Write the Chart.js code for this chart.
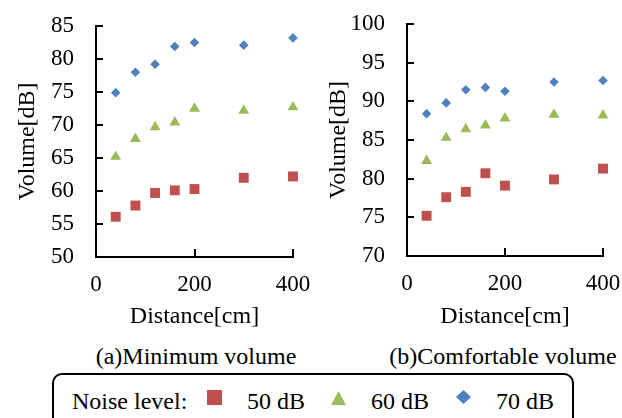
<!DOCTYPE html>
<html><head><meta charset="utf-8">
<script src="https://cdn.jsdelivr.net/npm/chart.js@4/dist/chart.umd.min.js"></script>
<style>
html,body{margin:0;padding:0;background:#fff;}
body{width:622px;height:418px;position:relative;overflow:hidden;font-family:"Liberation Serif","Times New Roman",serif;color:#000;}
.cw{position:absolute;top:0;width:311px;height:336px;}
canvas{display:block;}
.t{position:absolute;font-size:24px;line-height:24px;white-space:nowrap;}
.cap{text-align:center;width:300px;}
.lbox{position:absolute;left:52px;top:373px;width:518px;height:70px;border:2px solid #000;border-radius:10px;}
.mk{position:absolute;}
</style>
</head><body>
<div class="cw" style="left:0"><canvas id="c1" width="311" height="336"></canvas></div>
<div class="cw" style="left:311px"><canvas id="c2" width="311" height="336"></canvas></div>
<div class="t cap" style="left:46px;top:344px">(a)Minimum volume</div>
<div class="t cap" style="left:353px;top:344px">(b)Comfortable volume</div>
<div class="lbox"></div>
<div class="t" style="left:72px;top:389px" id="legTitle"></div>
<svg class="mk" style="left:207px;top:390px" width="15" height="15"><rect x="0" y="0" width="15" height="15" fill="#C0504D"/></svg>
<div class="t" style="left:247px;top:389px" id="leg0"></div>
<svg class="mk" style="left:331px;top:391px" width="15" height="14"><polygon points="7.5,0 15,14 0,14" fill="#9BBB59"/></svg>
<div class="t" style="left:371px;top:389px" id="leg1"></div>
<svg class="mk" style="left:456px;top:390px" width="15" height="14"><polygon points="7.5,0 15,7 7.5,14 0,7" fill="#4F81BD"/></svg>
<div class="t" style="left:496px;top:389px" id="leg2"></div>
<script>
// ---- data ----
const distances = [40, 80, 120, 160, 200, 300, 400];
const minVol50 = [56.1, 57.8, 59.7, 60.1, 60.3, 62.0, 62.2];
const minVol60 = [65.2, 67.9, 69.7, 70.4, 72.5, 72.2, 72.7];
const minVol70 = [74.9, 78.0, 79.2, 81.9, 82.5, 82.1, 83.2];
const comfVol50 = [75.2, 77.6, 78.3, 80.7, 79.1, 79.9, 81.3];
const comfVol60 = [82.3, 85.3, 86.4, 86.9, 87.8, 88.3, 88.2];
const comfVol70 = [88.4, 89.8, 91.5, 91.8, 91.3, 92.5, 92.7];
const seriesLabels = ['50 dB', '60 dB', '70 dB'];
const legendTitle = 'Noise level:';
const xTitle = 'Distance[cm]';
const yTitle = 'Volume[dB]';
const xRange = [0, 400], xStep = 200;
const yRangeMin = [50, 85], yRangeComf = [70, 100], yStep = 5;

document.getElementById('legTitle').textContent = legendTitle;
seriesLabels.forEach((l, i) => document.getElementById('leg' + i).textContent = l);

const colors = ['#C0504D', '#9BBB59', '#4F81BD'];
const styles = ['rect', 'triangle', 'rectRot'];
const radii = [7, 6.3, 4.8];
const FONT = "'Liberation Serif', 'Times New Roman', serif";

const insideTicks = {
  id: 'insideTicks',
  beforeDatasetsDraw(chart) {
    const {ctx, chartArea: {left, bottom}, scales: {x, y}} = chart;
    ctx.save();
    ctx.strokeStyle = '#000';
    ctx.lineWidth = 2;
    ctx.beginPath();
    y.ticks.forEach(t => {
      const py = Math.round(y.getPixelForValue(t.value));
      ctx.moveTo(left, py); ctx.lineTo(left + 7, py);
    });
    x.ticks.forEach(t => {
      if (t.value === xRange[0]) return;
      const px = Math.round(x.getPixelForValue(t.value));
      ctx.moveTo(px, bottom); ctx.lineTo(px, bottom - 8);
    });
    ctx.stroke();
    ctx.restore();
  }
};

function zeroPad(s) { s.paddingLeft = 0; s.paddingRight = 0; s.paddingTop = 0; s.paddingBottom = 0; }

function makeChart(id, series, yRange, pad, xH) {
  new Chart(document.getElementById(id), {
    type: 'scatter',
    data: {
      datasets: series.map((vals, i) => ({
        label: seriesLabels[i],
        data: distances.map((d, j) => ({x: d, y: vals[j]})),
        pointStyle: styles[i],
        pointRadius: radii[i],
        pointHoverRadius: radii[i],
        backgroundColor: colors[i],
        borderColor: colors[i],
        pointBorderWidth: 0,
        clip: false
      }))
    },
    options: {
      responsive: false,
      devicePixelRatio: 1,
      animation: false,
      events: [],
      layout: {padding: pad},
      plugins: {legend: {display: false}, tooltip: {enabled: false}},
      scales: {
        x: {
          type: 'linear', min: xRange[0], max: xRange[1],
          afterFit: s => { s.height = xH; zeroPad(s); },
          ticks: {stepSize: xStep, color: '#000', font: {family: FONT, size: 23}, padding: 14, maxRotation: 0},
          grid: {drawOnChartArea: false, drawTicks: false},
          border: {display: true, color: '#000', width: 2},
          title: {display: true, text: xTitle, color: '#000', font: {family: FONT, size: 24}, padding: {top: 0, bottom: 5}}
        },
        y: {
          type: 'linear', min: yRange[0], max: yRange[1],
          afterFit: s => { s.width = 96; zeroPad(s); },
          ticks: {stepSize: yStep, color: '#000', font: {family: FONT, size: 23}, padding: 22},
          grid: {drawOnChartArea: false, drawTicks: false},
          border: {display: true, color: '#000', width: 2},
          title: {display: true, text: yTitle, color: '#000', font: {family: FONT, size: 24}, padding: {top: 13, bottom: 0}}
        }
      }
    },
    plugins: [insideTicks]
  });
}

makeChart('c1', [minVol50, minVol60, minVol70], yRangeMin, {left: 0, top: 26, right: 18, bottom: 0}, 79);
makeChart('c2', [comfVol50, comfVol60, comfVol70], yRangeComf, {left: 0, top: 24, right: 19, bottom: 0}, 80);
</script>
</body></html>
